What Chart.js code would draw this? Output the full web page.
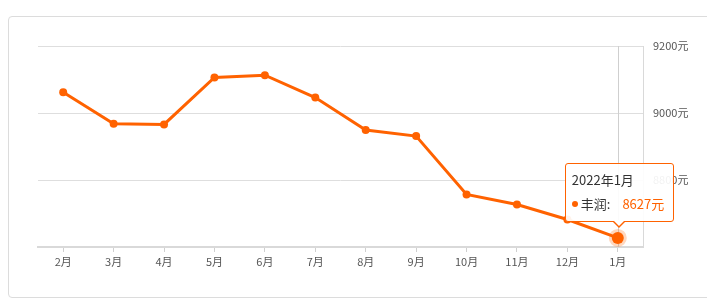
<!DOCTYPE html>
<html>
<head>
<meta charset="utf-8">
<script src="https://cdn.jsdelivr.net/npm/chart.js@4"></script>
<style>
    body { margin: 0; background: #fff; font-family: "Noto Sans CJK SC", sans-serif; }
    .box {
        position: absolute; left: 8px; top: 16px; width: 720px; height: 280px;
        border: 1px solid #dcdcdc; border-radius: 4px;
    }
    #chart { position: absolute; left: 0; top: 0; }
    .tip {
        position: absolute; display: none; width: 107px; height: 57px;
        background: rgba(255,255,255,0.92); border: 1px solid #ff6200; border-radius: 3px;
        font-size: 13px; color: #333; box-sizing: content-box;
    }
    .tip::before, .tip::after {
        content: ""; position: absolute; left: 50%; width: 0; height: 0;
        border-left: 7px solid transparent; border-right: 7px solid transparent;
        transform: translateX(-50%);
    }
    .tip::before { bottom: -7px; border-top: 7px solid #ff6200; }
    .tip::after { bottom: -5px; border-top: 6px solid #fff; border-left-width: 6px; border-right-width: 6px; }
    .tip .t { position: absolute; left: 6px; top: 7px; line-height: 18px; }
    .tip .b { position: absolute; left: 6px; top: 31px; line-height: 18px; white-space: nowrap; }
    .tip .dot { display: inline-block; width: 6px; height: 6px; border-radius: 50%; background: #ff6200; margin-right: 3px; vertical-align: 2px; }
    .tip .v { color: #ff6200; margin-left: 12px; }
</style>
</head>
<body>
<div class="box"></div>
<canvas id="chart" width="707" height="300"></canvas>
<div class="tip" id="tip"></div>
<script>
// 月份、年份與房價
const months = ["2月", "3月", "4月", "5月", "6月", "7月", "8月", "9月", "10月", "11月", "12月", "1月"];
const years = ["2021", "2021", "2021", "2021", "2021", "2021", "2021", "2021", "2021", "2021", "2021", "2022"];
const prices = [9062, 8968, 8966, 9106, 9113, 9046, 8949, 8931, 8757, 8727, 8682, 8627];
const seriesName = "丰润";
const yTicks = [8600, 8800, 9000, 9200];

const orange = "#ff6200";
const activeIndex = prices.length - 1;

// 畫垂直指示線
const crosshair = {
    id: "crosshair",
    beforeDatasetsDraw(chart) {
        const active = chart.getActiveElements();
        if (!active.length) return;
        const x = active[0].element.x;
        const { top, bottom } = chart.chartArea;
        const ctx = chart.ctx;
        ctx.save();
        ctx.strokeStyle = "#cfcfcf";
        ctx.lineWidth = 1;
        ctx.beginPath();
        ctx.moveTo(Math.round(x) + 0.5, top);
        ctx.lineTo(Math.round(x) + 0.5, bottom);
        ctx.stroke();
        ctx.restore();
    }
};

// 自訂 HTML 提示框
function externalTooltip(context) {
    const tip = document.getElementById("tip");
    const tooltip = context.tooltip;
    if (tooltip.opacity === 0 || !tooltip.dataPoints) {
        tip.style.display = "none";
        return;
    }
    const dp = tooltip.dataPoints[0];
    const i = dp.dataIndex;
    tip.innerHTML = `
        <div class="t">${years[i]}年${months[i]}</div>
        <div class="b"><span class="dot"></span>${seriesName}:<span class="v">${prices[i]}元</span></div>
    `;
    tip.style.display = "block";
    tip.style.left = (tooltip.caretX - 53) + "px";
    tip.style.top = (tooltip.caretY - 75) + "px";
}

const ctx = document.getElementById("chart").getContext("2d");
const chart = new Chart(ctx, {
    type: "line",
    data: {
        labels: months,
        datasets: [{
            label: seriesName,
            data: prices,
            borderColor: orange,
            borderWidth: 3,
            pointRadius: 4,
            pointBackgroundColor: orange,
            pointBorderWidth: 0,
            pointHoverRadius: 6,
            pointHoverBackgroundColor: orange,
            pointHoverBorderColor: "rgba(255,98,0,0.25)",
            pointHoverBorderWidth: 6,
            tension: 0,
            fill: false,
        }],
    },
    options: {
        responsive: false,
        animation: false,
        events: [],
        layout: { padding: { left: 38, top: 46 } },
        plugins: {
            legend: { display: false },
            tooltip: { enabled: false, external: externalTooltip },
        },
        scales: {
            x: {
                offset: true,
                grid: { drawOnChartArea: false, drawTicks: true, tickLength: 5, tickColor: "#d0d0d0" },
                border: { color: "#d9d9d9", width: 2 },
                ticks: { color: "#555", font: { size: 11, family: "Noto Sans CJK SC" }, padding: 3, maxRotation: 0, autoSkip: false },
                afterFit(scale) { scale.height = 53; },
            },
            y: {
                position: "right",
                min: yTicks[0],
                max: yTicks[yTicks.length - 1],
                afterBuildTicks(scale) { scale.ticks = yTicks.map(v => ({ value: v })); },
                grid: { color: "#dedede", drawTicks: false },
                border: { color: "#d9d9d9" },
                ticks: {
                    color: "#555",
                    font: { size: 11, family: "Noto Sans CJK SC" },
                    padding: 10,
                    callback: v => (v === yTicks[0] ? null : v + "元"),
                },
                afterFit(scale) { scale.width = 64; },
            },
        },
    },
    plugins: [crosshair],
});

// 預設顯示最後一個點的提示
const pt = chart.getDatasetMeta(0).data[activeIndex];
chart.setActiveElements([{ datasetIndex: 0, index: activeIndex }]);
chart.tooltip.setActiveElements([{ datasetIndex: 0, index: activeIndex }], { x: pt.x, y: pt.y });
chart.update("none");
</script>
</body>
</html>
